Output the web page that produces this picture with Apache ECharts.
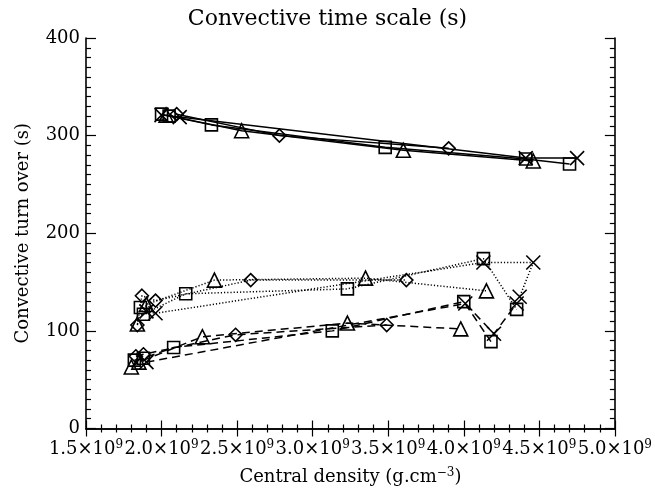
<!DOCTYPE html>
<html><head><meta charset="utf-8">
<script src="https://cdn.jsdelivr.net/npm/echarts@6/dist/echarts.min.js"></script>
<style>html,body{margin:0;padding:0;background:#fff}#c{width:655px;height:491px}</style>
</head><body><div id="c"></div>
<script>
// x values in units of 1e9 g.cm^-3, y in s
const xTicks = [1.5, 2.0, 2.5, 3.0, 3.5, 4.0, 4.5, 5.0];
const yTicks = [0, 100, 200, 300, 400];
// solid (upper group)
const sqSolid = [[2.00,322],[2.05,320],[2.33,311],[3.48,288],[4.41,276],[4.70,271]];
const trSolid = [[2.03,321],[2.53,305],[3.60,285],[4.46,274]];
const diSolid = [[2.10,322],[2.78,300],[3.90,287]];
const xSolid  = [[2.00,321],[2.12,319],[4.41,277],[4.75,277]];
// dotted (middle group)
const sqDot = [[1.86,124],[1.88,117],[2.16,138],[3.23,143],[4.13,174],[4.35,122]];
const trDot = [[1.84,107],[1.90,127],[2.35,152],[3.35,154],[4.15,141]];
const diDot = [[1.84,106],[1.87,136],[1.96,131],[2.59,152],[3.62,152]];
const xDot  = [[1.90,120],[1.96,118],[4.13,170],[4.46,170],[4.37,135]];
// dashed (lower group)
const sqDash = [[1.82,70],[1.88,72],[2.08,83],[3.13,100],[4.00,130],[4.18,89]];
const trDash = [[1.80,63],[1.85,68],[2.27,94],[3.23,108],[3.98,102]];
const diDash = [[1.83,74],[1.88,76],[2.49,96],[3.49,106]];
const xDash  = [[1.90,68],[4.01,128],[4.20,97],[4.35,128]];

const SYM = {
  sq: {symbol:'rect', size:12},
  tr: {symbol:'triangle', size:14},
  di: {symbol:'diamond', size:13},
  x:  {symbol:'path://M0,0L10,10M10,0L0,10', size:14}
};
const STY = {solid:'solid', dot:[1.2,2], dash:[8,5]};
function mk(data, m, st){
  return {type:'line', data:data, symbol:SYM[m].symbol, symbolSize:SYM[m].size,
    showAllSymbol:true, animation:false, xAxisIndex:0, yAxisIndex:0,
    lineStyle:{color:'#000', width:1.5, type:STY[st]},
    itemStyle:{color:'rgba(0,0,0,0)', borderColor:'#000', borderWidth:1.6}};
}
const series = [
  mk(sqSolid,'sq','solid'), mk(trSolid,'tr','solid'), mk(diSolid,'di','solid'), mk(xSolid,'x','solid'),
  mk(sqDot,'sq','dot'), mk(trDot,'tr','dot'), mk(diDot,'di','dot'), mk(xDot,'x','dot'),
  mk(sqDash,'sq','dash'), mk(trDash,'tr','dash'), mk(diDash,'di','dash'), mk(xDash,'x','dash')
];
const F = 'DejaVu Serif';
const axLine = {show:true, lineStyle:{color:'#000', width:1.6}};
const chart = echarts.init(document.getElementById('c'), null, {renderer:'canvas'});
chart.setOption({
  backgroundColor:'#fff',
  title:{text:'Convective time scale (s)', left:'center', top:3, textStyle:{fontFamily:F, fontWeight:'normal', fontSize:22, color:'#000'}},
  grid:{left:86, right:40, top:38, bottom:58},
  xAxis:[
    {type:'value', min:xTicks[0], max:xTicks[xTicks.length-1], interval:0.5, position:'bottom',
     axisLine:axLine, splitLine:{show:false},
     axisTick:{inside:true, length:8, lineStyle:{color:'#000', width:1.2}},
     minorTick:{show:true, splitNumber:5, length:4, lineStyle:{color:'#000', width:1.2}},
     axisLabel:{margin:10, fontFamily:F, fontSize:18, color:'#000',
       formatter:v=>'{a|'+v.toFixed(1)+'×10}{s|9}',
       rich:{a:{fontFamily:F, fontSize:18, color:'#000'}, s:{fontFamily:F, fontSize:12, color:'#000', verticalAlign:'top', padding:[0,0,9,0]}}},
     name:'Central density (g.cm{s|−3})', nameLocation:'middle', nameGap:38,
     nameTextStyle:{fontFamily:F, fontSize:18, color:'#000', rich:{s:{fontFamily:F, fontSize:12, color:'#000', padding:[0,0,9,0]}}}},
    {type:'value', min:xTicks[0], max:xTicks[xTicks.length-1], interval:0.5, position:'top',
     axisLine:axLine, splitLine:{show:false}, axisLabel:{show:false},
     axisTick:{inside:true, length:8, lineStyle:{color:'#000', width:1.2}},
     minorTick:{show:true, splitNumber:5, length:4, lineStyle:{color:'#000', width:1.2}}}
  ],
  yAxis:[
    {type:'value', min:yTicks[0], max:yTicks[yTicks.length-1], interval:100, position:'left',
     axisLine:axLine, splitLine:{show:false},
     axisTick:{inside:true, length:10, lineStyle:{color:'#000', width:1.2}},
     minorTick:{show:true, splitNumber:10, length:5, lineStyle:{color:'#000', width:1.2}},
     axisLabel:{margin:6, fontFamily:F, fontSize:18, color:'#000'},
     name:'Convective turn over (s)', nameLocation:'middle', nameGap:54, nameRotate:90,
     nameTextStyle:{fontFamily:F, fontSize:18, color:'#000'}},
    {type:'value', min:yTicks[0], max:yTicks[yTicks.length-1], interval:100, position:'right',
     axisLine:axLine, splitLine:{show:false}, axisLabel:{show:false},
     axisTick:{inside:true, length:10, lineStyle:{color:'#000', width:1.2}},
     minorTick:{show:true, splitNumber:10, length:5, lineStyle:{color:'#000', width:1.2}}}
  ],
  series:series
});
</script></body></html>
